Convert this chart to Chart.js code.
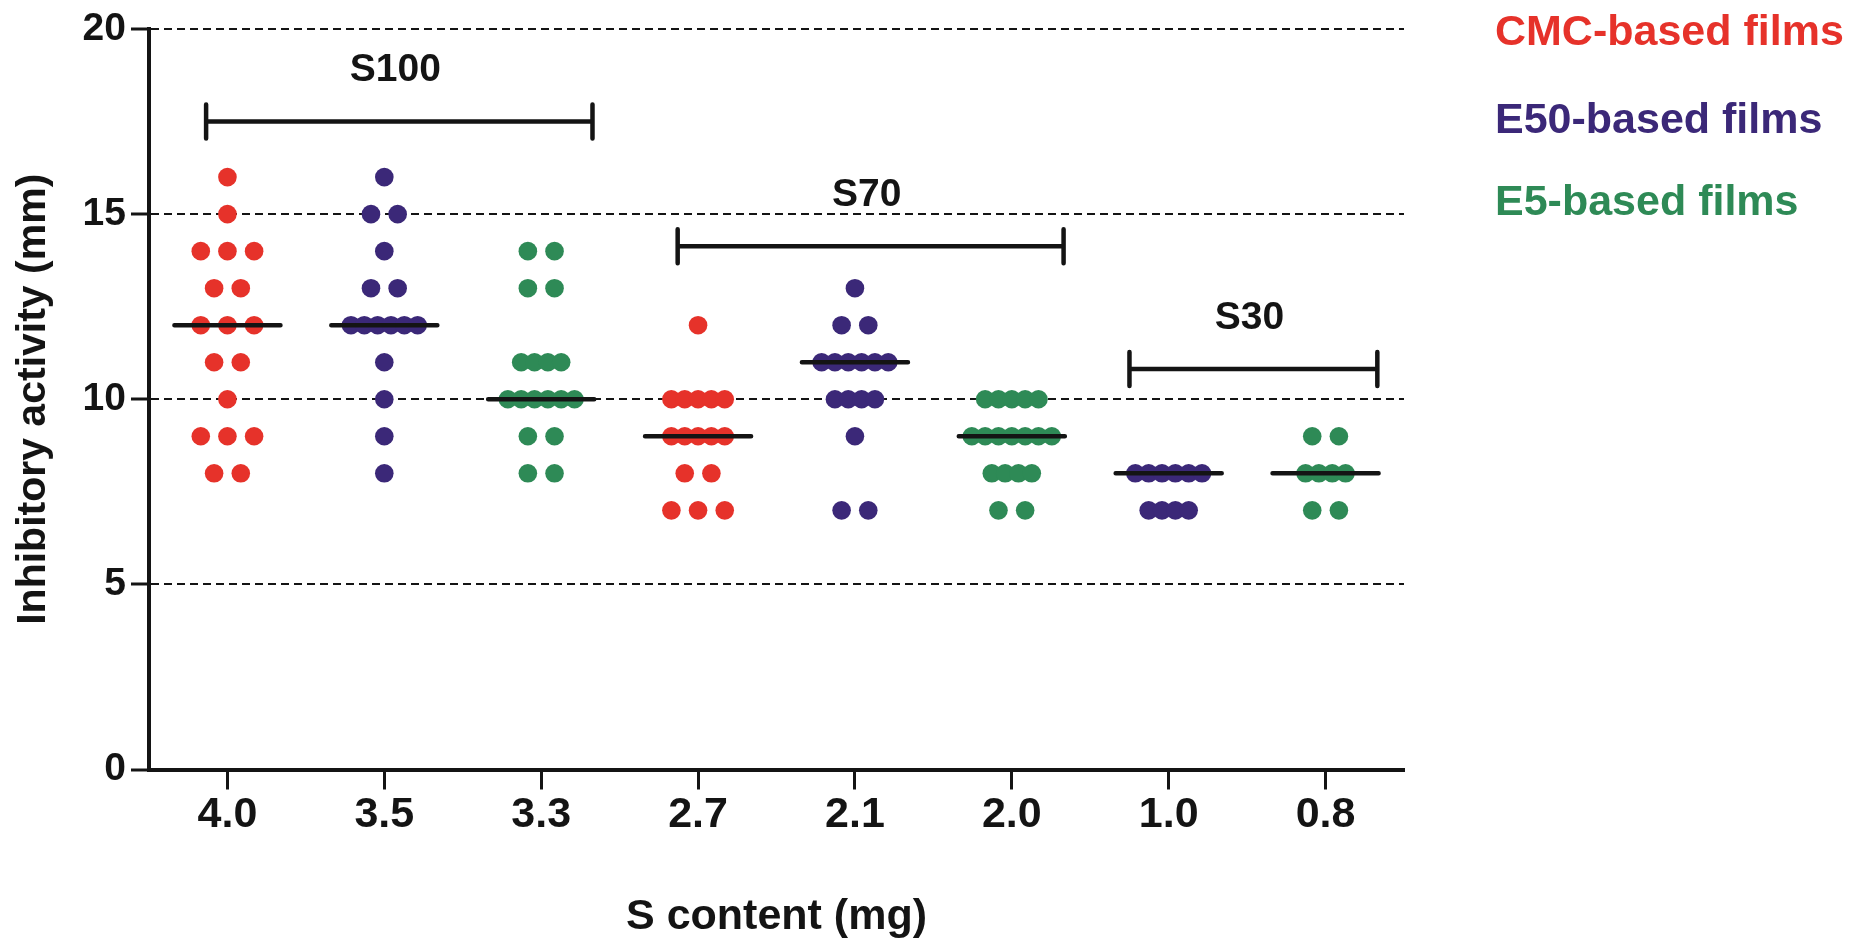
<!DOCTYPE html>
<html>
<head>
<meta charset="utf-8">
<title>Inhibitory activity vs S content</title>
<script src="https://cdn.jsdelivr.net/npm/chart.js@4.4.1/dist/chart.umd.min.js"></script>
<style>
  html, body { margin: 0; padding: 0; background: #fff; }
  #wrap { width: 1859px; height: 944px; }
</style>
</head>
<body>
<div id="wrap"><canvas id="chart" width="1859" height="944"></canvas></div>
<script>
// Category labels (S content, mg) and which film each column belongs to
const sContent = ['4.0', '3.5', '3.3', '2.7', '2.1', '2.0', '1.0', '0.8'];
const filmOf = ['CMC', 'E50', 'E5', 'CMC', 'E50', 'E5', 'E50', 'E5'];

// Inhibition zone (mm) per column
const s40 = [16, 15, 14, 14, 14, 13, 13, 12, 12, 12, 11, 11, 10, 9, 9, 9, 8, 8];
const s35 = [16, 15, 15, 14, 13, 13, 12, 12, 12, 12, 12, 12, 11, 10, 9, 8];
const s33 = [14, 14, 13, 13, 11, 11, 11, 11, 10, 10, 10, 10, 10, 10, 9, 9, 8, 8];
const s27 = [12, 10, 10, 10, 10, 10, 9, 9, 9, 9, 9, 8, 8, 7, 7, 7];
const s21 = [13, 12, 12, 11, 11, 11, 11, 11, 11, 10, 10, 10, 10, 9, 7, 7];
const s20 = [10, 10, 10, 10, 10, 9, 9, 9, 9, 9, 9, 9, 8, 8, 8, 8, 7, 7];
const s10 = [8, 8, 8, 8, 8, 8, 7, 7, 7, 7];
const s08 = [9, 9, 8, 8, 8, 8, 7, 7];
const columns = [s40, s35, s33, s27, s21, s20, s10, s08];

const yTicks = [0, 5, 10, 15, 20];

// Film types (legend)
const films = ['CMC', 'E50', 'E5'];
const filmLabels = ['CMC-based films', 'E50-based films', 'E5-based films'];
const filmColors = ['#e6322a', '#3b2878', '#2e8a56'];

// Bracket annotations: [label, fromCategory, toCategory, yValue]
const brackets = [
    ['S100', -0.136, 2.327, 17.5],
    ['S70', 2.87, 5.33, 14.13],
    ['S30', 5.75, 7.33, 10.82]
];

const FONT = "'Liberation Sans', Arial, sans-serif";
const INK = '#141414';
const SLOT = 0.085;      // horizontal step between dots, in category units
const HALF_MED = 0.338;  // half length of the median bar

function median(arr) {
    const s = [...arr].sort((a, b) => a - b);
    const m = Math.floor(s.length / 2);
    return s.length % 2 ? s[m] : (s[m - 1] + s[m]) / 2;
}

// spread equal values sideways like a column scatter
function spread(values, col) {
    const counts = {};
    values.forEach(v => { counts[v] = (counts[v] || 0) + 1; });
    const pts = [];
    Object.keys(counts).forEach(key => {
        const n = counts[key];
        const step = n <= 3 ? 2 * SLOT : SLOT;
        for (let k = 0; k < n; k++) {
            pts.push({ x: col + (k - (n - 1) / 2) * step, y: Number(key) });
        }
    });
    return pts;
}

const scatterSets = films.map((f, fi) => {
    let pts = [];
    columns.forEach((vals, ci) => {
        if (filmOf[ci] === f) pts = pts.concat(spread(vals, ci));
    });
    return {
        type: 'scatter',
        label: filmLabels[fi],
        data: pts,
        backgroundColor: filmColors[fi],
        pointRadius: 9.3,
        pointBorderWidth: 0,
        pointHoverRadius: 9.3,
        order: 2
    };
});

const medianPts = [];
columns.forEach((vals, ci) => {
    const m = median(vals);
    medianPts.push({ x: ci - HALF_MED, y: m }, { x: ci + HALF_MED, y: m }, { x: ci + 0.5, y: null });
});

const medianSet = {
    type: 'line',
    label: 'median',
    data: medianPts,
    borderColor: INK,
    borderWidth: 4.5,
    borderCapStyle: 'round',
    pointRadius: 0,
    showLine: true,
    spanGaps: false,
    order: 0
};

const annotations = {
    id: 'annotations',
    afterDatasetsDraw(chart) {
        const { ctx, scales: { x, y }, chartArea } = chart;
        ctx.save();
        ctx.strokeStyle = INK;
        ctx.lineWidth = 4.5;
        ctx.lineCap = 'round';
        ctx.fillStyle = INK;
        ctx.font = 'bold 39px ' + FONT;
        ctx.textAlign = 'center';
        ctx.textBaseline = 'middle';
        brackets.forEach(([label, from, to, yv]) => {
            const x1 = x.getPixelForValue(from);
            const x2 = x.getPixelForValue(to);
            const yy = y.getPixelForValue(yv);
            ctx.beginPath();
            ctx.moveTo(x1, yy); ctx.lineTo(x2, yy);
            ctx.moveTo(x1, yy - 17); ctx.lineTo(x1, yy + 17);
            ctx.moveTo(x2, yy - 17); ctx.lineTo(x2, yy + 17);
            ctx.stroke();
            ctx.fillText(label, (x1 + x2) / 2 - 4, yy - 51);
        });

        // legend text on the right
        ctx.font = 'bold 43px ' + FONT;
        ctx.textAlign = 'left';
        ctx.textBaseline = 'alphabetic';
        const lx = chartArea.right + 91;
        [45, 133, 215].forEach((by, i) => {
            ctx.fillStyle = filmColors[i];
            ctx.fillText(filmLabels[i], lx, by);
        });
        ctx.restore();
    }
};

new Chart(document.getElementById('chart'), {
    type: 'scatter',
    data: { datasets: [...scatterSets, medianSet] },
    options: {
        responsive: false,
        animation: false,
        layout: { padding: { left: 0, top: 29, right: 455, bottom: 0 } },
        plugins: {
            legend: { display: false },
            tooltip: { enabled: false }
        },
        scales: {
            x: {
                type: 'linear',
                min: -0.5,
                max: 7.5,
                afterFit: (s) => { s.height = 174.5; },
                afterBuildTicks: (s) => { s.ticks = sContent.map((_, i) => ({ value: i })); },
                ticks: {
                    color: INK,
                    padding: 0,
                    font: { family: FONT, size: 43, weight: 'bold' },
                    callback: (v) => sContent[v]
                },
                grid: {
                    drawOnChartArea: false,
                    drawTicks: true,
                    tickLength: 20,
                    tickWidth: 3,
                    tickColor: INK
                },
                border: { display: true, color: INK, width: 4 },
                title: {
                    display: true,
                    text: 'S content (mg)',
                    color: INK,
                    font: { family: FONT, size: 43, weight: 'bold' },
                    padding: { top: 0, bottom: 1 }
                }
            },
            y: {
                min: 0,
                max: 20,
                afterFit: (s) => { s.width = 149; },
                afterBuildTicks: (s) => { s.ticks = yTicks.map(v => ({ value: v })); },
                ticks: {
                    color: INK,
                    padding: 5,
                    font: { family: FONT, size: 39, weight: 'bold' }
                },
                grid: {
                    color: INK,
                    lineWidth: 2,
                    drawTicks: true,
                    tickLength: 18,
                    tickWidth: 3,
                    tickColor: INK
                },
                border: { display: true, color: INK, width: 4, dash: [8, 5] },
                title: {
                    display: true,
                    text: 'Inhibitory activity (mm)',
                    color: INK,
                    font: { family: FONT, size: 41, weight: 'bold' },
                    padding: { top: 9, bottom: 0 }
                }
            }
        }
    },
    plugins: [annotations]
});
</script>
</body>
</html>
